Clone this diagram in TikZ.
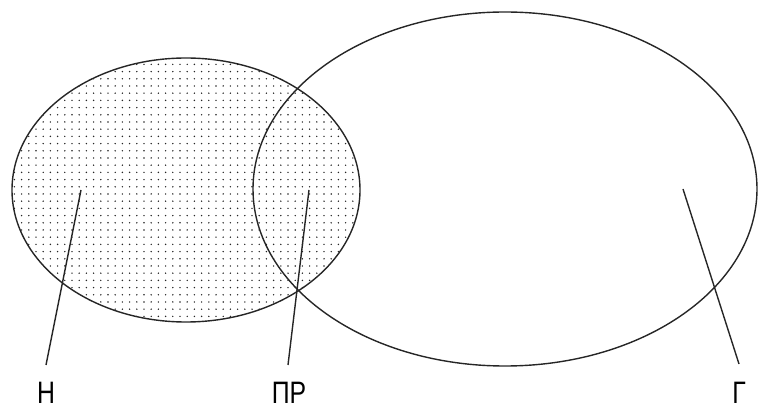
\documentclass[tikz,border=0pt]{standalone}
\usepackage{fontspec}
\setmainfont{Liberation Sans}
\usetikzlibrary{shapes.geometric,patterns.meta}
\tikzdeclarepattern{
  name=sdots,
  type=uncolored,
  bounding box={(-3.6pt,-3.6pt) and (3.6pt,3.6pt)},
  tile size={(7.2pt,7.2pt)},
  code={\pgfpathcircle{\pgfpointorigin}{0.8pt}\pgfusepath{fill}}
}
\newcommand{\narrowtxt}[1]{\scalebox{0.8}[1]{#1}}
\begin{document}
\begin{tikzpicture}[x=1pt,y=1pt,
  set/.style={draw=black!85,line width=1.4pt,shape=ellipse,inner sep=0pt},
  lbl/.style={font=\fontsize{31}{31}\selectfont,inner sep=0pt,anchor=base},
  lead/.style={draw=black!85,line width=1.4pt}]
\useasboundingbox (0,0) rectangle (764,410);
\node[set,pattern={sdots},pattern color=black!85,minimum width=348pt,minimum height=264pt] (H) at (186,220) {};
\node[set,minimum width=504pt,minimum height=354pt] (G) at (505,221) {};
\node[lbl] (tH) at (46,6) {\narrowtxt{Н}};
\node[lbl] (tPR) at (289,6) {\narrowtxt{ПР}};
\node[lbl] (tG) at (739,6) {\narrowtxt{Г}};
\coordinate (aH) at (81,220);
\coordinate (bH) at (46,45);
\coordinate (aPR) at (309,220);
\coordinate (bPR) at (288,45);
\coordinate (aG) at (683,221);
\coordinate (bG) at (739,46);
\draw[lead] (aH) -- (bH);
\draw[lead] (aPR) -- (bPR);
\draw[lead] (aG) -- (bG);
\end{tikzpicture}
\end{document}
